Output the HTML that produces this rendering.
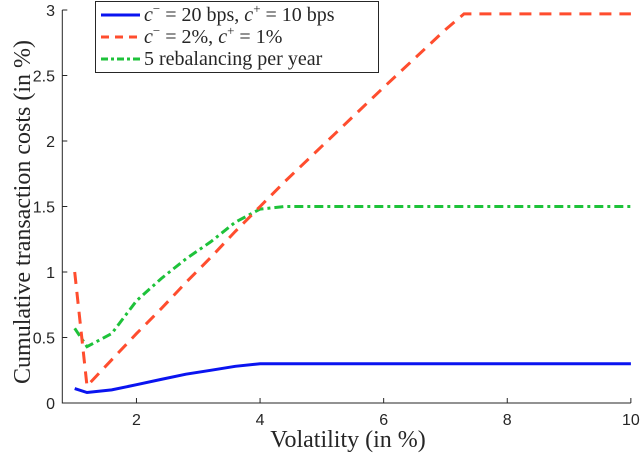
<!DOCTYPE html>
<html><head><meta charset="utf-8"><style>
body{margin:0;background:#fff;}
svg{display:block;}
.tk{font-family:"Liberation Sans",sans-serif;font-size:16px;fill:#262626;}
.lb{font-family:"Liberation Serif",serif;font-size:20px;fill:#262626;}
.ax{font-family:"Liberation Serif",serif;font-size:24px;fill:#262626;}
</style></head><body>
<svg id="c" width="640" height="453" viewBox="0 0 640 453"></svg>
<script>
const xs=[1,1.2,1.6,2,2.4,2.8,3.2,3.6,4,4.4,5,6,7,7.3,8,9,10];
const blue=[0.11,0.08,0.10,0.14,0.18,0.22,0.25,0.28,0.30,0.30,0.30,0.30,0.30,0.30,0.30,0.30,0.30];
const red=[1.0,0.13,0.33,0.53,0.72,0.92,1.11,1.31,1.5,1.69,1.96,2.41,2.85,2.97,2.97,2.97,2.97];
const green=[0.57,0.43,0.53,0.78,0.95,1.1,1.23,1.38,1.48,1.5,1.5,1.5,1.5,1.5,1.5,1.5,1.5];
const xTicks=[2,4,6,8,10];
const yTicks=[0,0.5,1,1.5,2,2.5,3];
const yTickLabels=["0","0.5","1","1.5","2","2.5","3"];
const X=v=>62.3+(v-0.8)*61.8;
const Y=v=>403-v*131;
const NS="http://www.w3.org/2000/svg";
const svg=document.getElementById('c');
function mk(t,a,p){const e=document.createElementNS(NS,t);for(const k in a)e.setAttribute(k,a[k]);(p||svg).appendChild(e);return e;}
let e;
e=mk('path',{d:`M${X(0.8)},${Y(3)}V${Y(0)}H${X(10)}`,fill:'none',stroke:'#262626','stroke-width':1});


xTicks.forEach(t=>{
 e=mk('line',{x1:X(t),x2:X(t),y1:Y(0),y2:Y(0)-5,stroke:'#262626'});
 
 
 e=mk('text',{x:X(t),y:425,'text-anchor':'middle',class:'tk'});e.textContent=t;
 
 
});
yTicks.forEach((t,i)=>{
 e=mk('line',{x1:X(0.8),x2:X(0.8)+5,y1:Y(t),y2:Y(t),stroke:'#262626'});
 
 
 e=mk('text',{x:55,y:Y(t)+6,'text-anchor':'end',class:'tk'});e.textContent=yTickLabels[i];
 
 
});
e=mk('text',{x:348,y:447,'text-anchor':'middle',class:'ax'});e.textContent='Volatility (in %)';


e=mk('text',{x:0,y:0,'text-anchor':'middle',class:'ax',transform:'translate(30,212) rotate(-90)'});e.textContent='Cumulative transaction costs (in %)';


function line(arr,col,dash,name){
 const d=arr.map((v,i)=>(i?'L':'M')+X(xs[i]).toFixed(1)+','+Y(v).toFixed(1)).join('');
 const p=mk('path',{d:d,fill:'none',stroke:col,'stroke-width':3,'stroke-dasharray':dash});
 
 
}
line(green,'#1ec23a','9,4,3,4','series-rebalancing');
line(red,'#ff4d2e','12,8','series-2pct');
line(blue,'#0a14f0','none','series-20bps');
const g=mk('g',{});


mk('rect',{x:95.5,y:1.5,width:283,height:71,fill:'#fff',stroke:'#262626'},g);
const leg=[['#0a14f0','none','c','\u2212',' = 20 bps, ','c','+',' = 10 bps'],['#ff4d2e','8,6','c','\u2212',' = 2%, ','c','+',' = 1%']];
leg.forEach((l,i)=>{
 const y=15+i*22;
 e=mk('line',{x1:101,x2:140,y1:y,y2:y,stroke:l[0],'stroke-width':3,'stroke-dasharray':l[1]},g);
 
 
 const t=mk('text',{x:144,y:y+6,class:'lb'},g);
 
 
 t.innerHTML=`<tspan font-style="italic">c</tspan><tspan dy="-8" font-size="13">${l[3]}</tspan><tspan dy="8">${l[4]}</tspan><tspan font-style="italic">c</tspan><tspan dy="-8" font-size="13">+</tspan><tspan dy="8">${l[7]}</tspan>`;
});
e=mk('line',{x1:101,x2:140,y1:59,y2:59,stroke:'#1ec23a','stroke-width':3,'stroke-dasharray':'7,3,3,3'},g);


e=mk('text',{x:144,y:65,class:'lb'},g);e.textContent='5 rebalancing per year';


</script>
</body></html>
